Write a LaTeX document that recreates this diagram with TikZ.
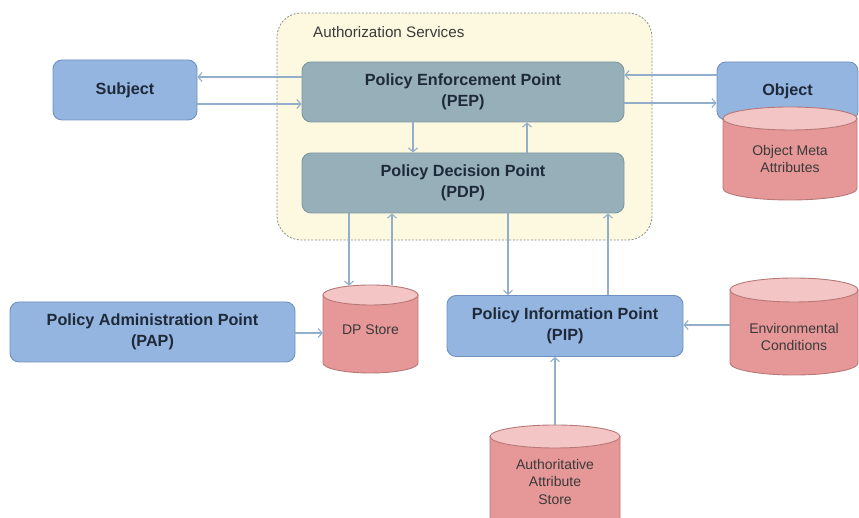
\documentclass[tikz,border=0pt]{standalone}
\usepackage{fontspec}
\setmainfont{Liberation Sans}
\usetikzlibrary{arrows.meta,calc}

\definecolor{zonefill}{HTML}{FCF9E0}
\definecolor{zoneline}{HTML}{8C8C8C}
\definecolor{tealfill}{HTML}{97AFB8}
\definecolor{tealline}{HTML}{7E98A2}
\definecolor{bluefill}{HTML}{94B5DF}
\definecolor{blueline}{HTML}{7090C0}
\definecolor{cylfill}{HTML}{E69797}
\definecolor{cylendfill}{HTML}{F3C5C5}
\definecolor{cylline}{HTML}{B87878}
\definecolor{arrowc}{HTML}{93AECB}
\definecolor{txt}{HTML}{1E2A3A}
\definecolor{txtsoft}{HTML}{3A3A3A}

\tikzset{
  box/.style={rounded corners=9pt, line width=0.9pt, align=center, inner sep=0pt,
    font=\bfseries\fontsize{16.2}{21}\selectfont, text=txt},
  tealbox/.style={box, fill=tealfill, draw=tealline},
  bluebox/.style={box, fill=bluefill, draw=blueline},
  cylbody/.style={fill=cylfill, draw=cylline, line width=0.9pt},
  cylend/.style={fill=cylendfill, draw=cylline, line width=0.9pt},
  cyltext/.style={align=center, inner sep=0pt, text=txtsoft,
    font=\fontsize{14}{17.5}\selectfont},
  holder/.style={inner sep=0pt, draw=none},
  arr/.style={draw=arrowc, line width=1.1pt, -{Straight Barb[length=4pt,width=9pt]}},
}

% data store: #1 name, #2 centre x, #3 top, #4 bottom, #5 width,
% #6 end radius, #7 text centre (top/bottom/text measured downwards), #8 text
\newcommand\dbstore[8]{%
  \pgfmathsetmacro\dbL{#2-#5/2}%
  \pgfmathsetmacro\dbR{#2+#5/2}%
  \pgfmathsetmacro\dbT{518-#3-#6}%
  \pgfmathsetmacro\dbB{518-#4+#6}%
  \pgfmathsetmacro\dbrx{#5/2}%
  \pgfmathsetmacro\dbC{518-(#3+#4)/2}%
  \pgfmathsetmacro\dbH{#4-#3}%
  \pgfmathsetmacro\dbY{518-#7}%
  \path[cylbody] (\dbL,\dbT) -- (\dbL,\dbB)
    arc[start angle=180, end angle=360, x radius=\dbrx, y radius=#6]
    -- (\dbR,\dbT) -- cycle;
  \path[cylend] (#2,\dbT) ellipse[x radius=\dbrx, y radius=#6];
  \node[holder, minimum width=#5pt, minimum height=\dbH pt] (#1) at (#2,\dbC) {};
  \node[cyltext] (#1txt) at (#2,\dbY) {#8};
}

\begin{document}
\begin{tikzpicture}[x=1pt,y=1pt]
\useasboundingbox (0,0) rectangle (859,518);

% authorization services zone
\draw[fill=zonefill, draw=zoneline, line width=0.8pt, dash pattern=on 2pt off 1.6pt,
  rounded corners=24pt] (277,505) rectangle (652,278);
\node[anchor=west, inner sep=0pt, text=txtsoft, font=\fontsize{15.2}{17}\selectfont]
  (zonelabel) at (313,486) {Authorization Services};

% points
\node[tealbox, minimum width=322pt, minimum height=60pt] (pep) at (463,426)
  {Policy Enforcement Point\\(PEP)};
\node[tealbox, minimum width=322pt, minimum height=60pt] (pdp) at (463,335)
  {Policy Decision Point\\(PDP)};
\node[bluebox, minimum width=144pt, minimum height=60pt] (subject) at (125,428) {Subject};
\node[bluebox, minimum width=141pt, minimum height=58pt] (object) at (787.5,427) {Object};
\node[bluebox, minimum width=285pt, minimum height=60pt] (pap) at (152.5,186)
  {Policy Administration Point\\(PAP)};
\node[bluebox, minimum width=236pt, minimum height=61pt] (pip) at (565,192)
  {Policy Information Point\\(PIP)};

% stores
\dbstore{oma}{790}{107}{200}{134}{11.5}{159}{Object Meta\\Attributes}
\dbstore{dps}{370.5}{285}{373}{95}{10}{330}{DP Store}
\dbstore{env}{794}{278}{375}{128}{12}{337}{Environmental\\Conditions}
\dbstore{aas}{555}{425}{530}{130}{11.5}{482}{Authoritative\\Attribute\\Store}

% flows
\draw[arr] (pep.west |- 0,441) -- (subject.east |- 0,441);
\draw[arr] (subject.east |- 0,414) -- (pep.west |- 0,414);
\draw[arr] (object.west |- 0,443) -- (pep.east |- 0,443);
\draw[arr] (pep.east |- 0,415) -- (object.west |- 0,415);
\draw[arr] (pep.south -| 413,0) -- (pdp.north -| 413,0);
\draw[arr] (pdp.north -| 527,0) -- (pep.south -| 527,0);
\draw[arr] (pdp.south -| 349,0) -- ([yshift=-1pt]dps.north -| 349,0);
\draw[arr] (dps.north -| 392,0) -- (pdp.south -| 392,0);
\draw[arr] (pdp.south -| 508,0) -- (pip.north -| 508,0);
\draw[arr] (pip.north -| 608,0) -- (pdp.south -| 608,0);
\draw[arr] (pap.east |- 0,185) -- (dps.west |- 0,185);
\draw[arr] (env.west |- 0,193) -- (pip.east |- 0,193);
\draw[arr] (aas.north) -- (pip.south -| aas.north);
\end{tikzpicture}
\end{document}
